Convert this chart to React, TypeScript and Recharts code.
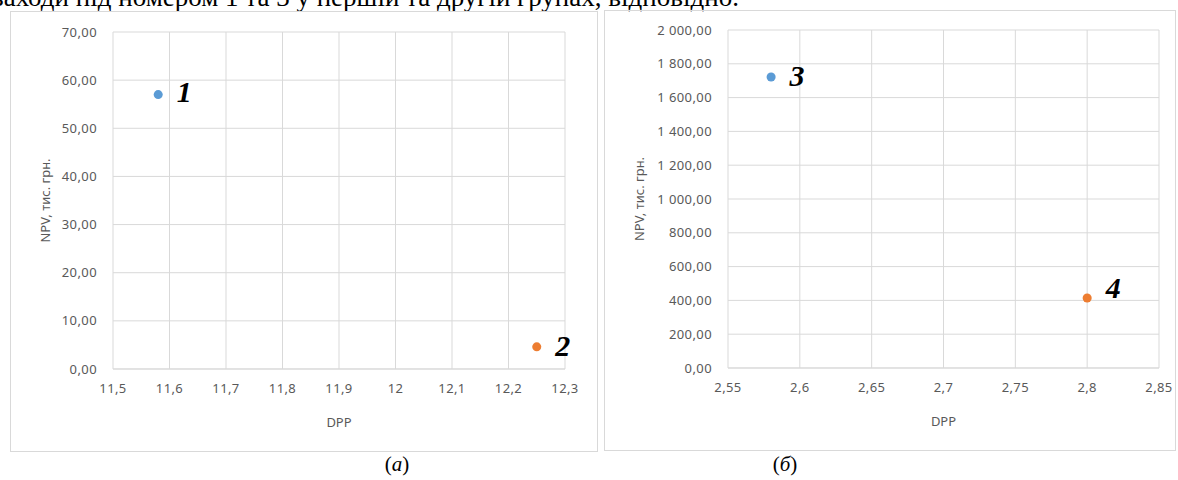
import {
  CartesianGrid,
  LabelList,
  Scatter,
  ScatterChart,
  XAxis,
  YAxis,
  ZAxis,
} from "recharts";

// group (a)
const dppA = [11.58, 12.25];
const npvA = [57.0, 4.6];
const tagsA = ["1", "2"];
const xTicksA = [11.5, 11.6, 11.7, 11.8, 11.9, 12, 12.1, 12.2, 12.3];
const yTicksA = [0, 10, 20, 30, 40, 50, 60, 70];

// group (б)
const dppB = [2.58, 2.8];
const npvB = [1722, 414];
const tagsB = ["3", "4"];
const xTicksB = [2.55, 2.6, 2.65, 2.7, 2.75, 2.8, 2.85];
const yTicksB = [0, 200, 400, 600, 800, 1000, 1200, 1400, 1600, 1800, 2000];

const topLine = "заходи під номером 1 та 3 у першій та другій групах, відповідно.";
const yTitle = "NPV, тис. грн.";
const xTitle = "DPP";

const COLORS = ["#5B9BD5", "#ED7D31"];
const GRID = "#d9d9d9";
const TEXT = "#595959";
const TICK_FONT = { fontSize: 13, fill: TEXT, fontFamily: "Noto Sans", letterSpacing: 0.4 };

const fmtX = (v: number) => String(v).replace(".", ",");
const fmtY = (v: number) => {
  const [i, d] = v.toFixed(2).split(".");
  return i.replace(/\B(?=(\d{3})+(?!\d))/g, " ") + "," + d;
};

const tagStyle = {
  fontFamily: "Liberation Serif",
  fontWeight: 700,
  fontStyle: "italic",
  fontSize: 30,
  fill: "#000",
};

function YTitle({ viewBox }: any) {
  const cx = viewBox.x + 34;
  const cy = viewBox.y + viewBox.height / 2;
  return (
    <text
      x={cx}
      y={cy}
      transform={`rotate(-90 ${cx} ${cy})`}
      textAnchor="middle"
      dominantBaseline="central"
      fontSize={13}
      fill={TEXT}
      fontFamily="Noto Sans"
    >
      {yTitle}
    </text>
  );
}

interface PanelProps {
  xs: number[];
  ys: number[];
  tags: string[];
  xTicks: number[];
  yTicks: number[];
  width: number;
  height: number;
  yAxisWidth: number;
  margin: { top: number; right: number; left: number; bottom: number };
  tagDy: number[];
}

function Panel({ xs, ys, tags, xTicks, yTicks, width, height, yAxisWidth, margin, tagDy }: PanelProps) {
  const series = xs.map((x, i) => [{ x, y: ys[i], tag: tags[i] }]);
  return (
    <ScatterChart width={width} height={height} margin={margin}>
      <CartesianGrid stroke={GRID} strokeWidth={1} />
      <XAxis
        type="number"
        dataKey="x"
        domain={[xTicks[0], xTicks[xTicks.length - 1]]}
        ticks={xTicks}
        tickFormatter={fmtX}
        tick={TICK_FONT}
        tickLine={false}
        tickMargin={9}
        axisLine={{ stroke: GRID }}
        height={82}
        label={{
          value: xTitle,
          position: "insideBottom",
          offset: 24,
          style: { fontSize: 13, fill: TEXT, fontFamily: "Noto Sans" },
        }}
      />
      <YAxis
        type="number"
        dataKey="y"
        domain={[yTicks[0], yTicks[yTicks.length - 1]]}
        ticks={yTicks}
        tickFormatter={fmtY}
        tick={TICK_FONT}
        tickLine={false}
        tickMargin={10}
        axisLine={false}
        width={yAxisWidth}
        label={<YTitle />}
      />
      <ZAxis range={[70, 70]} />
      {series.map((d, i) => (
        <Scatter key={i} data={d} fill={COLORS[i]} isAnimationActive={false}>
          <LabelList dataKey="tag" position="right" offset={14} dy={tagDy[i]} style={tagStyle} />
        </Scatter>
      ))}
    </ScatterChart>
  );
}

export default function App() {
  return (
    <div
      style={{
        position: "absolute",
        left: 0,
        top: 0,
        width: 1178,
        height: 480,
        overflow: "hidden",
        background: "#fff",
      }}
    >
      <div
        style={{
          position: "absolute",
          left: -7,
          top: -18,
          fontFamily: "Liberation Serif",
          fontSize: 27,
          whiteSpace: "nowrap",
          color: "#000",
        }}
      >
        {topLine}
      </div>
      <div
        style={{
          position: "absolute",
          left: 10,
          top: 11,
          width: 586,
          height: 439,
          border: `1px solid ${GRID}`,
        }}
      >
        <Panel
          xs={dppA}
          ys={npvA}
          tags={tagsA}
          xTicks={xTicksA}
          yTicks={yTicksA}
          width={586}
          height={439}
          yAxisWidth={102}
          margin={{ top: 20, right: 32, left: 0, bottom: 0 }}
          tagDy={[-3, -2]}
        />
      </div>
      <div
        style={{
          position: "absolute",
          left: 604,
          top: 10,
          width: 570,
          height: 439,
          border: `1px solid ${GRID}`,
        }}
      >
        <Panel
          xs={dppB}
          ys={npvB}
          tags={tagsB}
          xTicks={xTicksB}
          yTicks={yTicksB}
          width={570}
          height={439}
          yAxisWidth={123}
          margin={{ top: 19, right: 16, left: 0, bottom: 0 }}
          tagDy={[-2, -11]}
        />
      </div>
      <div
        style={{
          position: "absolute",
          left: 372,
          top: 452,
          width: 50,
          textAlign: "center",
          fontFamily: "Liberation Serif",
          fontSize: 21,
        }}
      >
        (<i>а</i>)
      </div>
      <div
        style={{
          position: "absolute",
          left: 760,
          top: 452,
          width: 50,
          textAlign: "center",
          fontFamily: "Liberation Serif",
          fontSize: 21,
        }}
      >
        (<i>б</i>)
      </div>
    </div>
  );
}
